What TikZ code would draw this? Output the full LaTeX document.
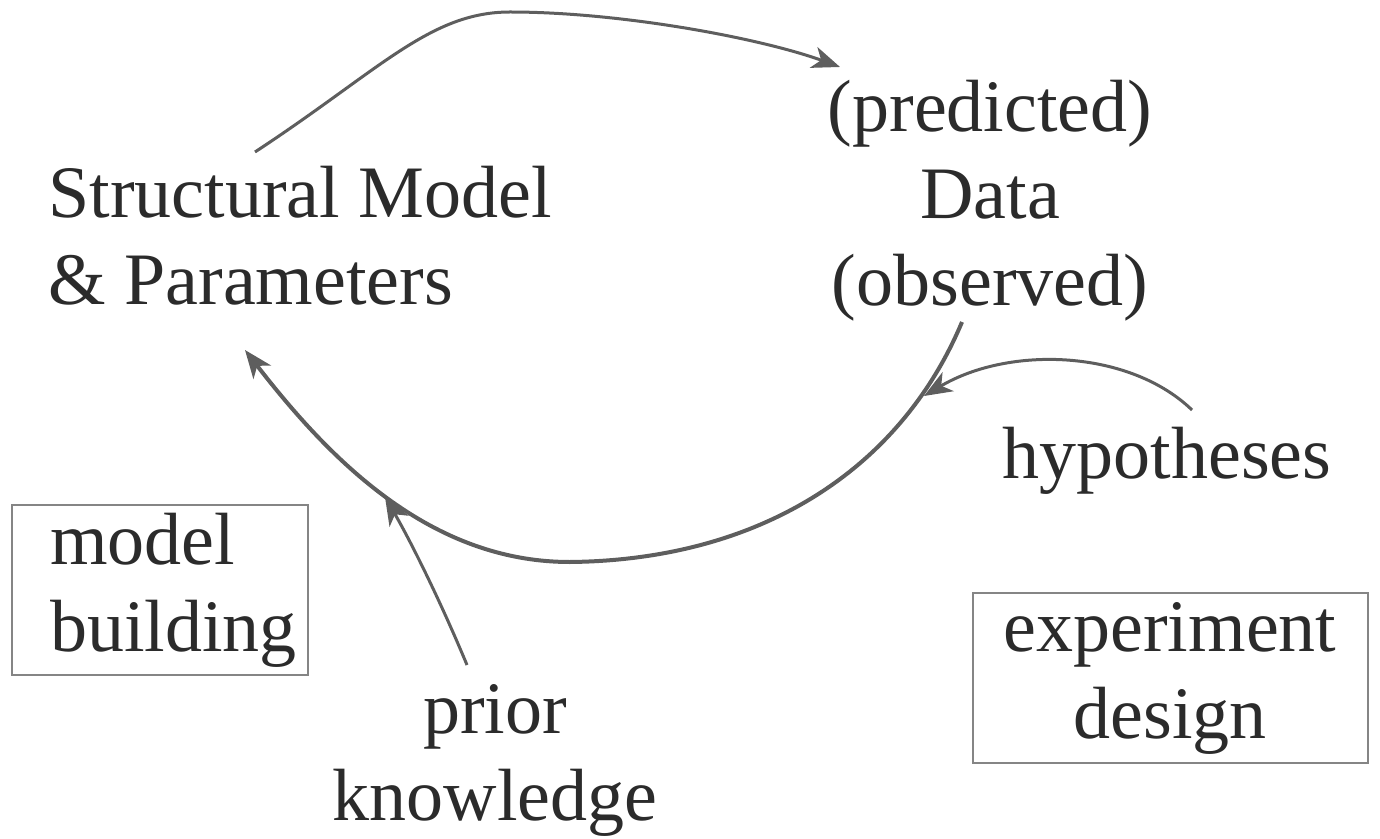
\documentclass[tikz,border=0pt]{standalone}
\usepackage{fontspec}
\setmainfont{Liberation Serif}
\usetikzlibrary{arrows.meta}
\usetikzlibrary{positioning}
\definecolor{ink}{HTML}{2B2B2B}
\definecolor{pencil}{HTML}{5E5E5E}
\definecolor{frame}{HTML}{858585}
\tikzset{
  cycle-text/.style={font=\fontsize{37}{43.5}\selectfont, text=ink, inner sep=0pt},
  task-box/.style={cycle-text, draw=frame, line width=1pt, minimum height=85pt},
  cycle-path/.style={draw=pencil, line width=1.5pt, ->},
}

\begin{document}
\begin{tikzpicture}[x=0.5pt, y=-0.5pt, >={Stealth[length=14pt,width=11pt,inset=4pt]}]
\useasboundingbox (0,0) rectangle (1380,839);
\node[cycle-text, anchor=north west, align=left] at (48,166) (model) {Structural Model\\\& Parameters};
\node[cycle-text, anchor=north, align=center] at (990,80) (data) {(predicted)\\Data\\(observed)};
\node[cycle-text, anchor=north] at (1167,427) (hypotheses) {hypotheses};
\node[cycle-text, anchor=north, align=center] at (495,684) (prior) {prior\\knowledge};
\node[task-box, align=left, inner xsep=19pt, text width=110pt] at (160,590) (building) {model\\building};
\node[task-box, align=center, minimum width=197.5pt] at (1170,678) (design) {experiment\\design};
% free ends of the arrows
\coordinate (model-out) at (255,152);
\coordinate (pred-in) at (840,67);
\coordinate (obs-out) at (962,322);
\coordinate (model-in) at (245,350);
\coordinate (hyp-out) at (1192,410);
\coordinate (hyp-in) at (924,396);
\coordinate (prior-out) at (467,665);
\coordinate (prior-in) at (385,497);
\draw[cycle-path] (model-out) .. controls (380,70) and (430,12) .. (510,12)
  .. controls (620,12) and (760,38) .. (pred-in);
\draw[cycle-path, line width=2pt] (obs-out) .. controls (900,470) and (760,560) .. (570,562)
  .. controls (430,562) and (330,460) .. (model-in);
\draw[cycle-path] (hyp-out) .. controls (1130,350) and (1010,345) .. (hyp-in);
\draw[cycle-path] (prior-out) .. controls (440,600) and (410,540) .. (prior-in);
\end{tikzpicture}
\end{document}
